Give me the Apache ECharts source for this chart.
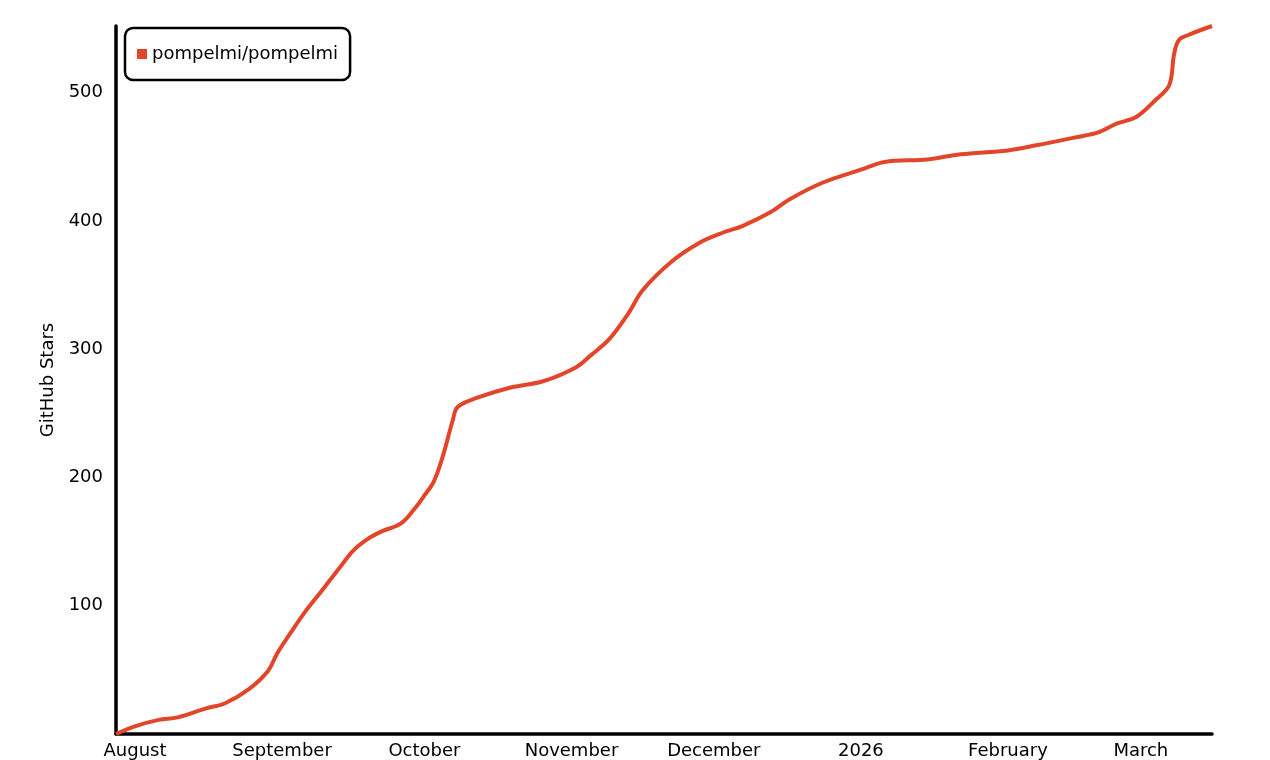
<!DOCTYPE html>
<html>
<head>
<meta charset="utf-8">
<script src="https://cdn.jsdelivr.net/npm/echarts@6/dist/echarts.min.js"></script>
<style>
html,body{margin:0;padding:0;background:#fff;}
#chart{width:1270px;height:760px;}
</style>
</head>
<body>
<div id="chart"></div>
<script>
const seriesName = 'pompelmi/pompelmi';
const dates = [
  '2025-07-28','2025-08-01','2025-08-06','2025-08-10','2025-08-16','2025-08-20','2025-08-25','2025-08-29','2025-08-31',
  '2025-09-03','2025-09-06','2025-09-09','2025-09-13','2025-09-16','2025-09-19','2025-09-22','2025-09-26','2025-09-29',
  '2025-10-01','2025-10-03','2025-10-05','2025-10-07','2025-10-08','2025-10-12','2025-10-19','2025-10-26',
  '2025-11-02','2025-11-05','2025-11-09','2025-11-13','2025-11-16','2025-11-22','2025-11-28',
  '2025-12-03','2025-12-07','2025-12-13','2025-12-17','2025-12-24',
  '2026-01-01','2026-01-06','2026-01-15','2026-01-22','2026-02-01','2026-02-07','2026-02-15','2026-02-20','2026-02-24','2026-02-28',
  '2026-03-04','2026-03-07','2026-03-08','2026-03-09','2026-03-11','2026-03-16'
];
const stars = [
  0, 6, 11, 13, 20, 24, 35, 49, 63,
  80, 96, 110, 129, 143, 152, 158, 164, 176,
  186, 197, 218, 245, 255, 262, 270, 275,
  286, 295, 308, 328, 346, 368, 383,
  391, 396, 407, 417, 430,
  440, 446, 448, 452, 455, 459, 465, 469, 476, 481,
  494, 506, 530, 541, 545, 552
];
const monthTicks = ['2025-08-01','2025-09-01','2025-10-01','2025-11-01','2025-12-01','2026-01-01','2026-02-01','2026-03-01'];
const monthLabels = ['August','September','October','November','December','2026','February','March'];
const yTicks = [100, 200, 300, 400, 500];

const ts = s => { const p = s.split('-').map(Number); return Date.UTC(p[0], p[1]-1, p[2]); };
const tickTs = monthTicks.map(ts);
const labelMap = {};
tickTs.forEach((t, i) => { labelMap[t] = monthLabels[i]; });

const FONT = 'DejaVu Sans';
const chart = echarts.init(document.getElementById('chart'), null, {renderer: 'canvas'});
chart.setOption({
  backgroundColor: '#ffffff',
  animation: false,
  textStyle: {fontFamily: FONT},
  grid: {left: 116, right: 58, top: 26, bottom: 23},
  legend: {
    data: [seriesName],
    left: 125, top: 28,
    icon: 'rect', itemWidth: 10, itemHeight: 10, itemGap: 7,
    padding: [17, 12, 17, 12],
    borderColor: '#000', borderWidth: 2.5, borderRadius: 8,
    backgroundColor: '#fff',
    textStyle: {fontFamily: FONT, fontSize: 18, color: '#000'}
  },
  xAxis: {
    type: 'value',
    min: ts(dates[0]), max: ts(dates[dates.length - 1]),
    axisLine: {lineStyle: {color: '#000', width: 3.5}},
    axisTick: {show: false},
    splitLine: {show: false},
    axisLabel: {
      customValues: tickTs,
      formatter: v => labelMap[v] || '',
      color: '#000', fontSize: 18, fontFamily: FONT, margin: 8
    }
  },
  yAxis: {
    type: 'value',
    min: 0, max: 552, interval: 100,
    name: 'GitHub Stars',
    nameLocation: 'middle', nameGap: 54, nameRotate: 90,
    nameTextStyle: {color: '#000', fontSize: 18, fontFamily: FONT},
    axisLine: {show: true, lineStyle: {color: '#000', width: 3.5}},
    axisTick: {show: false},
    splitLine: {show: false},
    axisLabel: {
      customValues: yTicks,
      color: '#000', fontSize: 18, fontFamily: FONT, margin: 13
    }
  },
  series: [{
    name: seriesName,
    type: 'line',
    data: dates.map((d, i) => [ts(d), stars[i]]),
    smooth: 0.35,
    showSymbol: false,
    symbol: 'none',
    itemStyle: {color: '#e2452a'},
    lineStyle: {color: '#e2452a', width: 4}
  }]
});
</script>
</body>
</html>
